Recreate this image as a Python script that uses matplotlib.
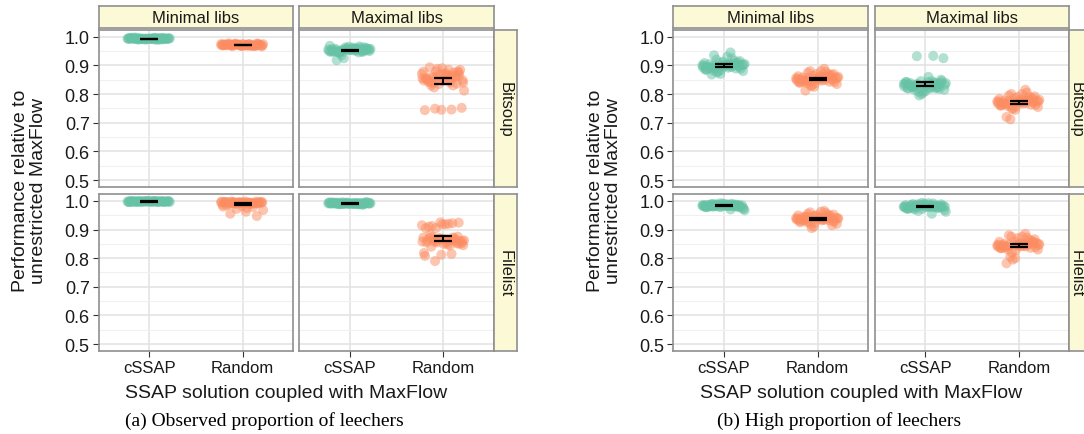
import numpy as np
import matplotlib
matplotlib.use("Agg")
import matplotlib.pyplot as plt

# categories and facets
solutions = ["cSSAP", "Random"]
lib_facets = ["Minimal libs", "Maximal libs"]
trace_facets = ["Bitsoup", "Filelist"]
captions = ["(a) Observed proportion of leechers", "(b) High proportion of leechers"]

# (a) observed proportion of leechers
a_bit_min_cssap = [0.993, 0.995, 0.991, 0.994, 0.992, 0.996, 0.990, 0.993, 0.994, 0.992,
                   0.997, 0.991, 0.993, 0.995, 0.989, 0.994, 0.992, 0.993, 0.996, 0.990,
                   0.993, 0.994, 0.992, 0.995, 0.991, 0.993, 0.994, 0.992, 0.993, 0.992,
                   0.994, 0.992, 0.995, 0.991, 0.993, 0.996, 0.990, 0.994, 0.992, 0.993,
                   0.995, 0.991, 0.994, 0.993, 0.992, 0.996, 0.990, 0.993, 0.994, 0.992]
a_bit_min_rand = [0.971, 0.973, 0.969, 0.975, 0.968, 0.972, 0.970, 0.974, 0.966, 0.971,
                  0.977, 0.969, 0.972, 0.970, 0.973, 0.967, 0.971, 0.975, 0.970, 0.968,
                  0.972, 0.974, 0.969, 0.971, 0.976, 0.970, 0.972, 0.968, 0.973, 0.971,
                  0.970, 0.973, 0.968, 0.972, 0.975, 0.969, 0.971, 0.974, 0.967, 0.972,
                  0.970, 0.976, 0.969, 0.971, 0.973, 0.968, 0.972, 0.970, 0.974, 0.971]
a_bit_max_cssap = [0.955, 0.960, 0.948, 0.952, 0.965, 0.957, 0.945, 0.950, 0.958, 0.962,
                   0.953, 0.947, 0.956, 0.968, 0.951, 0.944, 0.959, 0.954, 0.949, 0.961,
                   0.925, 0.957, 0.952, 0.946, 0.963, 0.955, 0.950, 0.958, 0.935, 0.953,
                   0.954, 0.958, 0.949, 0.962, 0.951, 0.956, 0.944, 0.960, 0.953, 0.948,
                   0.966, 0.955, 0.950, 0.957, 0.918, 0.952, 0.959, 0.947, 0.955, 0.951]
a_bit_max_rand = [0.870, 0.885, 0.860, 0.875, 0.890, 0.855, 0.865, 0.880, 0.848, 0.872,
                  0.893, 0.862, 0.868, 0.878, 0.840, 0.858, 0.884, 0.870, 0.852, 0.875,
                  0.888, 0.812, 0.866, 0.830, 0.879, 0.745, 0.744, 0.746, 0.749, 0.752,
                  0.850, 0.842, 0.860, 0.835, 0.855, 0.848, 0.838, 0.865, 0.845, 0.852,
                  0.830, 0.858, 0.840, 0.862, 0.844, 0.836, 0.853, 0.847, 0.857, 0.823]
a_fil_min_cssap = [0.998, 0.999, 0.997, 0.998, 0.999, 0.996, 0.998, 0.997, 0.999, 0.998,
                   0.997, 0.999, 0.998, 0.996, 0.999, 0.998, 0.997, 0.998, 0.999, 0.997,
                   0.998, 0.996, 0.999, 0.998, 0.997, 0.998, 0.999, 0.997, 0.998, 0.998,
                   0.998, 0.997, 0.999, 0.998, 0.996, 0.999, 0.998, 0.997, 0.998, 0.999,
                   0.997, 0.998, 0.999, 0.996, 0.998, 0.997, 0.999, 0.998, 0.997, 0.998]
a_fil_min_rand = [0.995, 0.993, 0.997, 0.991, 0.994, 0.996, 0.990, 0.992, 0.995, 0.998,
                  0.989, 0.993, 0.996, 0.987, 0.994, 0.991, 0.997, 0.993, 0.985, 0.978,
                  0.972, 0.968, 0.975, 0.955, 0.947, 0.992, 0.995, 0.990, 0.996, 0.994,
                  0.994, 0.996, 0.991, 0.993, 0.997, 0.990, 0.995, 0.992, 0.982, 0.996,
                  0.993, 0.989, 0.995, 0.962, 0.991, 0.997, 0.994, 0.980, 0.993, 0.995]
a_fil_max_cssap = [0.991, 0.993, 0.989, 0.994, 0.990, 0.992, 0.988, 0.995, 0.991, 0.990,
                   0.993, 0.987, 0.992, 0.994, 0.989, 0.991, 0.996, 0.990, 0.992, 0.988,
                   0.993, 0.991, 0.989, 0.994, 0.990, 0.992, 0.991, 0.993, 0.989, 0.991,
                   0.992, 0.990, 0.993, 0.989, 0.994, 0.991, 0.988, 0.992, 0.990, 0.995,
                   0.991, 0.989, 0.993, 0.990, 0.992, 0.987, 0.994, 0.991, 0.990, 0.992]
a_fil_max_rand = [0.915, 0.920, 0.912, 0.924, 0.918, 0.905, 0.922, 0.905, 0.860, 0.855,
                  0.870, 0.858, 0.868, 0.872, 0.845, 0.865, 0.860, 0.850, 0.862, 0.869,
                  0.855, 0.862, 0.848, 0.840, 0.875, 0.812, 0.808, 0.815, 0.790, 0.852,
                  0.918, 0.910, 0.865, 0.870, 0.858, 0.862, 0.875, 0.850, 0.868, 0.855,
                  0.872, 0.860, 0.845, 0.866, 0.880, 0.852, 0.925, 0.818, 0.863, 0.857]

# (b) high proportion of leechers
b_bit_min_cssap = [0.900, 0.905, 0.890, 0.895, 0.912, 0.885, 0.898, 0.920, 0.880, 0.903,
                   0.893, 0.908, 0.870, 0.899, 0.945, 0.935, 0.888, 0.902, 0.895, 0.915,
                   0.878, 0.905, 0.892, 0.868, 0.910, 0.897, 0.885, 0.925, 0.893, 0.902,
                   0.898, 0.904, 0.889, 0.910, 0.893, 0.900, 0.882, 0.915, 0.896, 0.887,
                   0.906, 0.875, 0.901, 0.930, 0.891, 0.899, 0.884, 0.908, 0.894, 0.902]
b_bit_min_rand = [0.855, 0.860, 0.845, 0.850, 0.870, 0.840, 0.858, 0.880, 0.835, 0.862,
                  0.848, 0.866, 0.825, 0.853, 0.888, 0.875, 0.842, 0.857, 0.850, 0.870,
                  0.830, 0.860, 0.847, 0.812, 0.865, 0.852, 0.840, 0.878, 0.846, 0.856,
                  0.850, 0.858, 0.843, 0.864, 0.848, 0.855, 0.838, 0.870, 0.851, 0.842,
                  0.860, 0.828, 0.856, 0.880, 0.845, 0.853, 0.836, 0.862, 0.849, 0.857]
b_bit_max_cssap = [0.835, 0.820, 0.825, 0.840, 0.830, 0.820, 0.838, 0.835, 0.815, 0.842,
                   0.830, 0.825, 0.800, 0.836, 0.845, 0.828, 0.845, 0.810, 0.833, 0.820,
                   0.795, 0.838, 0.822, 0.825, 0.818, 0.805, 0.842, 0.933, 0.932, 0.925,
                   0.830, 0.838, 0.822, 0.845, 0.826, 0.834, 0.815, 0.850, 0.828, 0.820,
                   0.840, 0.808, 0.832, 0.860, 0.824, 0.836, 0.812, 0.842, 0.827, 0.833]
b_bit_max_rand = [0.775, 0.780, 0.765, 0.770, 0.790, 0.760, 0.778, 0.800, 0.755, 0.782,
                  0.768, 0.786, 0.745, 0.773, 0.815, 0.795, 0.762, 0.777, 0.770, 0.790,
                  0.750, 0.780, 0.767, 0.720, 0.785, 0.772, 0.760, 0.805, 0.712, 0.776,
                  0.770, 0.778, 0.763, 0.785, 0.768, 0.775, 0.758, 0.792, 0.771, 0.762,
                  0.780, 0.748, 0.774, 0.800, 0.766, 0.773, 0.756, 0.783, 0.769, 0.777]
b_fil_min_cssap = [0.983, 0.986, 0.980, 0.985, 0.990, 0.978, 0.984, 0.988, 0.975, 0.982,
                   0.987, 0.980, 0.992, 0.983, 0.970, 0.985, 0.981, 0.989, 0.979, 0.984,
                   0.986, 0.967, 0.983, 0.988, 0.981, 0.985, 0.978, 0.990, 0.982, 0.984,
                   0.984, 0.981, 0.987, 0.979, 0.985, 0.982, 0.989, 0.977, 0.983, 0.986,
                   0.980, 0.984, 0.972, 0.988, 0.982, 0.985, 0.979, 0.983, 0.987, 0.981]
b_fil_min_rand = [0.940, 0.935, 0.945, 0.930, 0.950, 0.925, 0.938, 0.960, 0.920, 0.942,
                  0.933, 0.948, 0.910, 0.937, 0.965, 0.955, 0.928, 0.941, 0.936, 0.952,
                  0.905, 0.939, 0.932, 0.944, 0.915, 0.946, 0.934, 0.958, 0.927, 0.940,
                  0.938, 0.943, 0.931, 0.947, 0.935, 0.940, 0.926, 0.952, 0.936, 0.929,
                  0.945, 0.918, 0.939, 0.962, 0.933, 0.941, 0.923, 0.949, 0.934, 0.942]
b_fil_max_cssap = [0.980, 0.985, 0.975, 0.982, 0.990, 0.972, 0.979, 0.988, 0.968, 0.981,
                   0.986, 0.976, 0.993, 0.980, 0.955, 0.984, 0.978, 0.987, 0.974, 0.981,
                   0.983, 0.962, 0.979, 0.989, 0.977, 0.984, 0.973, 0.991, 0.978, 0.982,
                   0.979, 0.983, 0.976, 0.986, 0.978, 0.981, 0.970, 0.988, 0.980, 0.975,
                   0.984, 0.965, 0.980, 0.992, 0.977, 0.982, 0.972, 0.985, 0.978, 0.981]
b_fil_max_rand = [0.845, 0.850, 0.840, 0.855, 0.870, 0.835, 0.848, 0.875, 0.830, 0.852,
                  0.843, 0.860, 0.800, 0.847, 0.885, 0.880, 0.838, 0.851, 0.845, 0.865,
                  0.795, 0.849, 0.842, 0.782, 0.858, 0.846, 0.836, 0.872, 0.805, 0.853,
                  0.842, 0.850, 0.836, 0.858, 0.840, 0.847, 0.830, 0.866, 0.844, 0.835,
                  0.853, 0.820, 0.846, 0.875, 0.838, 0.849, 0.828, 0.857, 0.841, 0.848]

y_ticks = [0.5, 0.6, 0.7, 0.8, 0.9, 1.0]

# panels[sub][row][col] = (cssap, random)
panels = [
    [[(a_bit_min_cssap, a_bit_min_rand), (a_bit_max_cssap, a_bit_max_rand)],
     [(a_fil_min_cssap, a_fil_min_rand), (a_fil_max_cssap, a_fil_max_rand)]],
    [[(b_bit_min_cssap, b_bit_min_rand), (b_bit_max_cssap, b_bit_max_rand)],
     [(b_fil_min_cssap, b_fil_min_rand), (b_fil_max_cssap, b_fil_max_rand)]],
]

colors = ["#66C2A5", "#FC8D62"]
strip_fill = "#FCFAD6"
border = "#8F8F8F"

W, H = 1084, 435
fig = plt.figure(figsize=(W / 100, H / 100), dpi=100)
plt.rcParams['font.family'] = ['Liberation Sans', 'DejaVu Sans']


def box(x0, y0, x1, y1):
    return [x0 / W, 1 - y1 / H, (x1 - x0) / W, (y1 - y0) / H]


def style_frame(ax):
    for sp in ax.spines.values():
        sp.set_color(border)
        sp.set_linewidth(1.2)


# pixel layout of each sub-figure
col_x = [[(98.7, 293.0), (299.3, 494.0)], [(673.3, 868.3), (874.7, 1069.3)]]
row_y = [(30.5, 188.3), (194.7, 352.3)]
strip_top = (7.3, 29.3)
strip_w = 23.0

for s in range(2):
    for r in range(2):
        for c in range(2):
            x0, x1 = col_x[s][c]
            y0, y1 = row_y[r]
            ax = fig.add_axes(box(x0, y0, x1, y1))
            ax.set_xlim(0.46, 2.54)
            ax.set_ylim(0.475, 1.025)
            ax.set_axisbelow(True)
            ax.set_xticks([1, 2])
            ax.set_yticks(y_ticks)
            ax.set_yticks(np.arange(0.55, 1.0, 0.1), minor=True)
            ax.grid(True, which='major', color='#E2E2E2', lw=1.1)
            ax.grid(True, which='minor', axis='y', color='#F0F0F0', lw=0.8)
            ax.tick_params(which='minor', length=0)
            ax.tick_params(which='major', direction='out', length=4.5, width=0.8,
                           color='#333333', labelsize=13, pad=2, labelcolor='#1a1a1a')
            style_frame(ax)

            for k, vals in enumerate(panels[s][r][c]):
                vals = np.asarray(vals)
                n = len(vals)
                jit = ((np.arange(n) * 0.6180339) % 1 - 0.5) * 0.46
                ax.scatter(k + 1 + jit, vals, s=52, color=colors[k], alpha=0.5,
                           edgecolors='none', zorder=2)
                m = vals.mean()
                ci = 2.01 * vals.std(ddof=1) / np.sqrt(n)
                ax.errorbar(k + 1, m, yerr=ci, fmt='none', ecolor='black',
                            elinewidth=1.5, capsize=6.5, capthick=1.6, zorder=3)

            if c == 0:
                ax.set_yticklabels([f"{v:.1f}" for v in y_ticks])
            else:
                ax.tick_params(axis='y', length=0, labelleft=False)
            if r == 1:
                ax.set_xticklabels(solutions, fontsize=12)
            else:
                ax.tick_params(axis='x', length=0, labelbottom=False)

            # top strip
            if r == 0:
                st = fig.add_axes(box(x0, strip_top[0], x1, strip_top[1]))
                st.set_facecolor(strip_fill)
                st.set_xticks([])
                st.set_yticks([])
                style_frame(st)
                st.text(0.5, 0.5, lib_facets[c], ha='center', va='center',
                        fontsize=12, color='#1a1a1a', transform=st.transAxes)
            # right strip
            if c == 1:
                sr = fig.add_axes(box(x1, y0, x1 + strip_w, y1))
                sr.set_facecolor(strip_fill)
                sr.set_xticks([])
                sr.set_yticks([])
                style_frame(sr)
                tx = 0.5 if s == 0 else 0.3
                sr.text(tx, 0.5, trace_facets[r], ha='center', va='center',
                        rotation=270, fontsize=12, color='#1a1a1a',
                        transform=sr.transAxes)

    # axis titles and caption
    left = col_x[s][0][0]
    right = col_x[s][1][1]
    cx = (left + right) / 2 - 10
    fig.text(cx / W, 1 - 394 / H, "SSAP solution coupled with MaxFlow",
             ha='center', va='center', fontsize=14, color='#1a1a1a')
    fig.text((left - 69) / W, 1 - 191 / H,
             "Performance relative to\nunrestricted MaxFlow",
             ha='center', va='center', rotation=90, fontsize=14,
             color='#1a1a1a', linespacing=1.1)
    fig.text((cx - 22) / W, 1 - 421 / H, captions[s], ha='center', va='center',
             fontsize=14, family=['Liberation Serif', 'DejaVu Serif'])

fig.savefig("out.png", dpi=100)
